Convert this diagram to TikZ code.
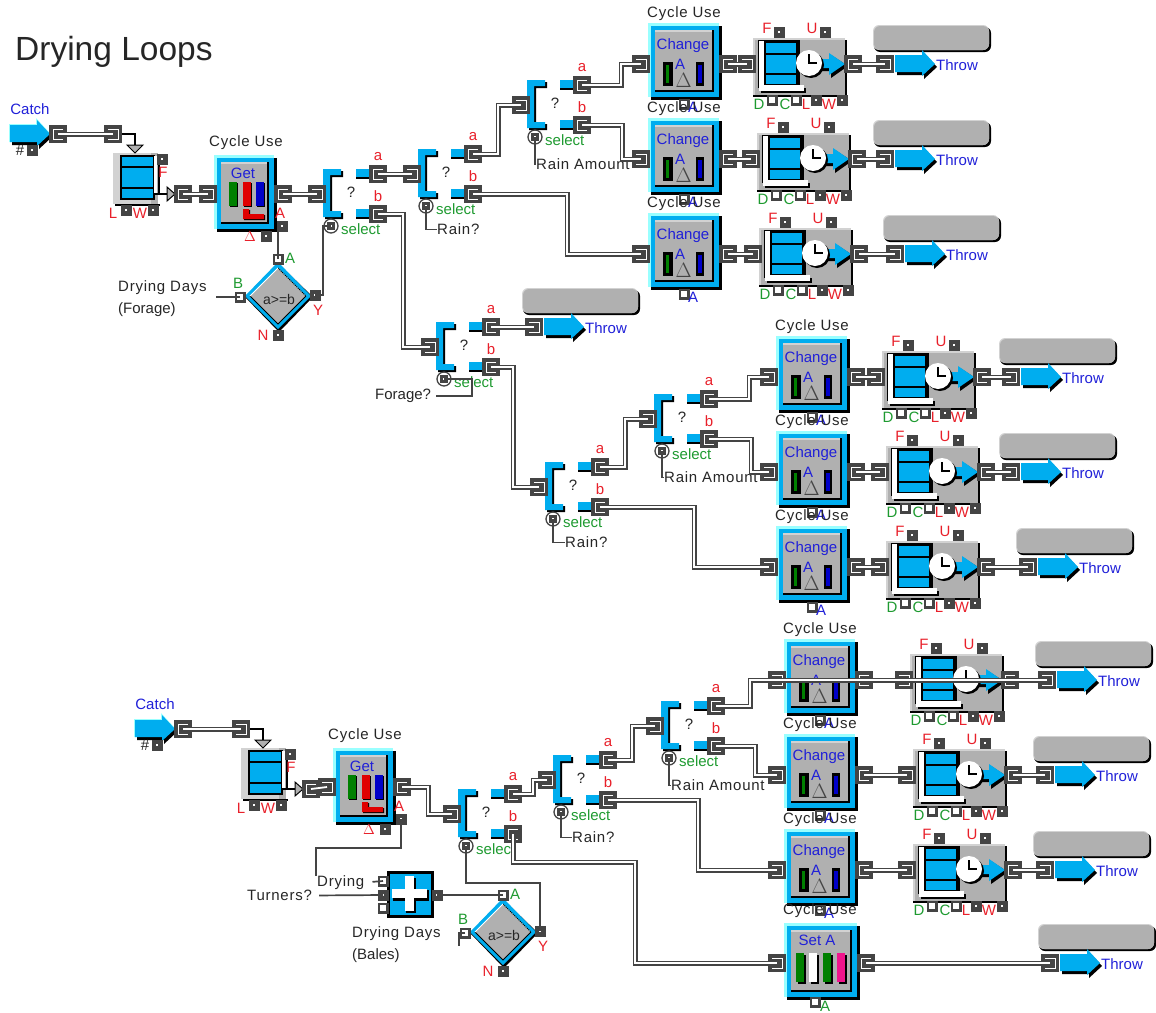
\documentclass[tikz,border=0pt]{standalone}
\usepackage{fontspec}
\setmainfont{Liberation Sans}
\newfontfamily\widefont[LetterSpace=5]{Liberation Sans}
\definecolor{portgray}{HTML}{444444}
\definecolor{blockgray}{HTML}{B0B0B0}
\definecolor{edgegray}{HTML}{D2D2D2}
\definecolor{tank}{HTML}{00ADEF}
\definecolor{icecyan}{HTML}{99FFFF}
\definecolor{lblred}{HTML}{E8202A}
\definecolor{lblgreen}{HTML}{1E9A30}
\definecolor{lblblue}{HTML}{2020D8}
\definecolor{bargreen}{HTML}{008000}
\definecolor{barred}{HTML}{E00000}
\definecolor{barblue}{HTML}{0000C8}
\definecolor{barpink}{HTML}{F0148C}

\begin{document}
\begin{tikzpicture}[x=1pt,y=-1pt,
  txt/.style={inner sep=0pt, font=\fontsize{15}{17}\selectfont, text=black!85},
  widetxt/.style={txt, yshift=-1.5pt, font=\fontsize{15}{17}\selectfont\widefont},
  redtxt/.style={txt, text=lblred},
  greentxt/.style={txt, text=lblgreen},
  bluetxt/.style={txt, text=lblblue},
  port/.style={fill=portgray, inner sep=0pt, minimum size=11pt, node contents={\color{white}\rule{2.4pt}{2.4pt}}},
  openport/.style={draw=portgray, fill=white, line width=2.5pt, inner sep=0pt, minimum size=8.5pt, node contents={}},
  wportin/.style={fill=portgray, inner sep=0pt, minimum size=18pt, node contents={},
    path picture={\draw[white,line width=.7pt] (path picture bounding box.center) +(-5,-5) -- +(5,-5) -- +(5,5) -- +(-5,5);}},
  wportout/.style={fill=portgray, inner sep=0pt, minimum size=18pt, node contents={},
    path picture={\draw[white,line width=.7pt] (path picture bounding box.center) +(5,-5) -- +(-5,-5) -- +(-5,5) -- +(5,5);}},
  wire/.style={draw=portgray, line width=1.6pt, double=white, double distance=1.8pt},
  sigwire/.style={draw=portgray, line width=1.7pt},
  thinarrow/.style={draw=black, line width=1.6pt},
  pics/blkframe/.style={code={
    \fill[black] (3,3) rectangle (#1,77);
    \fill[icecyan] (0,0) rectangle (#1-3,74);
    \fill[tank] (3,3) rectangle (#1-3,74);
    \fill[black] (7,7) rectangle (#1-8,69);
    \fill[blockgray] (7,7) rectangle (#1-10,67);
    \fill[edgegray] (7,7) rectangle (#1-10,9);
  }},
  bluearrow/.pic={
    \fill[black] (2,-6) -- (29,-6) -- (29,-11) -- (42,3) -- (29,15) -- (29,11) -- (2,11) -- cycle;
    \fill[tank] (0,-9) -- (27,-9) -- (27,-14) -- (40,0) -- (27,12) -- (27,8) -- (0,8) -- cycle;
  },
  catchblk/.pic={
    \fill[icecyan] (-1,-10) -- (26,-10) -- (26,-16) -- (40,-1) -- (26,8) -- (-1,8) -- cycle;
    \pic at (0,0) {bluearrow};
    \node[bluetxt] (-name) at (20,-25) {Catch};
    \node[txt] (-hash) at (10,16) {\#};
    \node (-port) at (22,16) [port];
    \node (-out) at (48,0) [wportout];
  },
  stockblk/.pic={
    \fill[edgegray] (0,0) rectangle (45,51);
    \fill[blockgray] (38,0) rectangle (45,51);
    \fill[black] (7,2) rectangle (42,47);
    \fill[white] (41,3) rectangle (44,40);
    \fill[tank] (9,4) rectangle (40,45);
    \fill[black] (9,13) rectangle (40,15);
    \fill[black] (9,34) rectangle (40,36);
    \fill[black] (45,3) rectangle (47,40);
    \fill[black] (2,51) rectangle (47,53);
    \draw[thinarrow] (0,-19) -| (22,-8);
    \draw[black, line width=1pt, fill=blockgray] (14,-8) -- (30,-8) -- (22,0) -- cycle;
    \draw[thinarrow] (40,41) -- (54,41);
    \draw[black, line width=1pt, fill=blockgray] (54,34) -- (62,41) -- (54,48) -- cycle;
    \node (-in) at (0,-19) [wportin];
    \node (-out) at (70,41) [wportout];
    \node (-F) at (49,6) [port];
    \node (-L) at (13,57) [port];
    \node (-W) at (40,57) [port];
    \node[redtxt] (-lF) at (50,19) {F};
    \node[redtxt] (-lL) at (0,60) {L};
    \node[redtxt] (-lW) at (27,60) {W};
  },
  getblk/.pic={
    \pic at (0,0) {blkframe=63};
    \node[widetxt] (-title) at (32,-14) {Cycle Use};
    \node[bluetxt] (-name) at (29,18) {Get};
    \fill[black] (16,28) rectangle (24,52);
    \fill[bargreen] (15,27) rectangle (23,51);
    \fill[black] (30,28) rectangle (38,52);
    \fill[barred] (29,27) rectangle (37,51);
    \fill[black] (43,28) rectangle (51,52);
    \fill[barblue] (42,27) rectangle (50,51);
    \fill[black] (30,55) -- (36,55) -- (36,60) -- (51,60) -- (51,65) -- (30,65) -- cycle;
    \fill[barred] (29,54) -- (35,54) -- (35,59) -- (50,59) -- (50,64) -- (29,64) -- cycle;
    \node (-in) at (-6,39) [wportin];
    \node (-out) at (69,39) [wportout];
    \node (-A) at (68,71) [port];
    \node (-D) at (52,81) [port];
    \node[redtxt] (-lA) at (66,58) {A};
    \node[redtxt] (-lD) at (36,82) {$\Delta$};
  },
  changeblk/.pic={
    \pic at (0,0) {blkframe=74};
    \node[widetxt] (-title) at (36,-11) {Cycle Use};
    \node[bluetxt] (-name) at (35,23) {Change};
    \node[bluetxt] (-lab) at (32,41) {A};
    \fill[black] (15,39) rectangle (25,63);
    \fill[bargreen] (18,42) rectangle (21,60);
    \fill[black] (48,39) rectangle (56,63);
    \fill[barblue] (50,42) rectangle (54,60);
    \node[txt, font=\fontsize{20}{22}\selectfont, text=portgray] (-delta) at (35.5,57) {$\Delta$};
    \node (-in) at (-7,41) [wportin];
    \node (-out) at (80,41) [wportout];
    \node (-A) at (36,81) [openport];
    \node[bluetxt] (-lA) at (45,84) {A};
  },
  setblk/.pic={
    \pic at (0,0) {blkframe=76};
    \node[widetxt] (-title) at (36,-14) {Cycle Use};
    \node[bluetxt] (-name) at (33,17) {Set A};
    \foreach \bx/\bc in {12/bargreen,25/white,39/bargreen,53/barpink} {
      \fill[black] (\bx+2,32) rectangle (\bx+10,61);
      \fill[\bc] (\bx,30) rectangle (\bx+8,59);
    }
    \node (-in) at (-7,40) [wportin];
    \node (-out) at (82,40) [wportout];
    \node (-A) at (31,79) [openport];
    \node[greentxt] (-lA) at (41,83) {A};
  },
  clockblk/.pic={
    \fill[edgegray] (0,0) rectangle (92,57);
    \fill[blockgray] (2,2) rectangle (92,57);
    \fill[black] (92,2) rectangle (94,59);
    \fill[black] (0,57) rectangle (94,59);
    \fill[black] (5,2) rectangle (47,50);
    \fill[black] (8,50) rectangle (53,55);
    \fill[white] (6,3) rectangle (11,52);
    \fill[white] (6,47) rectangle (51,53);
    \fill[tank] (13,5) rectangle (43,46);
    \fill[black] (13,15) rectangle (43,17);
    \fill[black] (13,35) rectangle (43,37);
    \fill[black] (69,24) -- (78,24) -- (78,17) -- (95,28) -- (78,40) -- (78,33) -- (69,33) -- cycle;
    \fill[tank] (67,21) -- (76,21) -- (76,15) -- (92,26) -- (76,37) -- (76,30) -- (67,30) -- cycle;
    \fill[black] (58,27) circle (13);
    \fill[white] (56,25) circle (13);
    \draw[black, line width=1.6pt] (56,16) -- (56,25) -- (64,25);
    \node (-in) at (-6,26) [wportin];
    \node (-out) at (100,26) [wportout];
    \node (-F) at (26,-6) [port];
    \node (-U) at (72,-6) [port];
    \node (-D) at (19,62) [openport];
    \node (-C) at (43,62) [openport];
    \node (-L) at (63,62) [port];
    \node (-W) at (89,62) [port];
    \node[redtxt] (-lF) at (14,-10) {F};
    \node[redtxt] (-lU) at (59,-10) {U};
    \node[greentxt] (-lD) at (6,66) {D};
    \node[greentxt] (-lC) at (32,66) {C};
    \node[redtxt] (-lL) at (53,66) {L};
    \node[redtxt] (-lW) at (76,66) {W};
  },
  throwblk/.pic={
    \fill[black, rounded corners=6pt] (-11,-37) rectangle (106,-12);
    \fill[edgegray, rounded corners=6pt] (-12,-39) rectangle (104,-14);
    \fill[blockgray, rounded corners=6pt] (-11,-38) rectangle (104,-14);
    \pic at (10,0) {bluearrow};
    \node (-in) at (0,0) [wportin];
    \node[bluetxt, anchor=west] (-name) at (51,1) {Throw};
  },
  selectblk/.pic={
    \fill[black] (2,2) -- (20,2) -- (20,8) -- (9,8) -- (9,44) -- (20,44) -- (20,50) -- (2,50) -- cycle;
    \fill[tank] (0,0) -- (18,0) -- (18,6) -- (7,6) -- (7,42) -- (18,42) -- (18,48) -- (0,48) -- cycle;
    \fill[black] (33,2) rectangle (46,10);
    \fill[tank] (33,0) rectangle (46,8);
    \fill[black] (33,42) rectangle (46,50);
    \fill[tank] (33,40) rectangle (46,48);
    \node[txt] (-q) at (28,23) {?};
    \node (-in) at (-6,25) [wportin];
    \node (-a) at (55,5) [wportout];
    \node (-b) at (55,45) [wportout];
    \draw[portgray, line width=1.3pt] (8,57) circle (7);
    \node (-sel) at (8,57) [port, minimum size=8pt];
    \node[redtxt] (-la) at (55,-12) {a};
    \node[redtxt] (-lb) at (55,27) {b};
    \node[greentxt, anchor=west] (-lsel) at (18,60) {select};
  },
  decideblk/.pic={
    \fill[black] (0,-33) -- (35,1) -- (1,36) -- (-33,1) -- cycle;
    \fill[tank] (0,-34) -- (33,0) -- (0,33) -- (-33,0) -- cycle;
    \fill[blockgray] (0,-28) -- (28,0) -- (0,28) -- (-28,0) -- cycle;
    \draw[black, line width=1pt] (28,0) -- (0,28) -- (-28,0);
    \draw[black, line width=1pt, densely dotted] (0,-28) -- (28,0);
    \draw[white, line width=1pt] (0,-28) -- (-28,0);
    \node[txt, font=\fontsize{14}{16}\selectfont] (-test) at (1,3) {a>=b};
    \node (-A) at (0,-37) [openport];
    \node (-B) at (-38,1) [openport];
    \node (-Y) at (37,-1) [port];
    \node (-N) at (0,39) [port];
    \node[greentxt] (-lA) at (12,-38) {A};
    \node[greentxt] (-lB) at (-40,-13) {B};
    \node[redtxt] (-lY) at (40,14) {Y};
    \node[redtxt] (-lN) at (-15,39) {N};
  },
  sumblk/.pic={
    \fill[black] (0,0) rectangle (47,47);
    \fill[tank] (3,3) rectangle (44,44);
    \fill[black] (19,7) rectangle (29,42);
    \fill[black] (6,19) rectangle (42,30);
    \fill[white] (18,5) rectangle (27,40);
    \fill[white] (5,18) rectangle (40,27);
    \node (-d) at (-4,10) [openport];
    \node (-t) at (-4,24) [port];
    \node (-x) at (-4,37) [openport];
    \node (-out) at (50,24) [port];
  }
]
  \useasboundingbox (0,0) rectangle (1156,1012);
  \node[txt, anchor=west, font=\fontsize{33.5}{38}\selectfont] (title) at (15,52) {Drying Loops};

  % --- catch, stock, get ---
  \pic (ca) at (10,134) {catchblk};
  \pic (sa) at (113,153) {stockblk};
  \pic (ga) at (214,155) {getblk};
  \pic (cb) at (135,729) {catchblk};
  \pic (sb) at (241,748) {stockblk};
  \pic (gb) at (333,748) {getblk};

  % --- selects ---
  \foreach \nm/\sx/\sy in {s1/323/169,s2/418/149,s3/527/80,s4/436/322,s5/545/462,s6/654/394,s7/458/789,s8/553/755,s9/661/701}
    {\pic (\nm) at (\sx,\sy) {selectblk};}

  % --- change, clock, throw rows ---
  \foreach \nm/\cx/\cy/\kx/\ky/\tx/\ty in {1/648/23/753/38/885/64,2/648/118/757/133/885/159,3/648/213/759/228/895/254,
      4/776/336/882/351/1011/377,5/776/431/886/446/1011/472,6/776/526/886/541/1028/567,
      7/784/639/910/654/1047/680,8/784/734/913/749/1045/775,9/784/829/913/844/1045/870} {
    \pic (c\nm) at (\cx,\cy) {changeblk};
    \pic (k\nm) at (\kx,\ky) {clockblk};
    \pic (t\nm) at (\tx,\ty) {throwblk};
    \draw[wire] (c\nm-out.center) -- (k\nm-in.center);
    \draw[wire] (k\nm-out.center) -- (t\nm-in.center);
  }
  \pic (seta) at (784,923) {setblk};
  \pic (t10) at (1050,963) {throwblk};
  \pic (t11) at (534,327) {throwblk};

  % --- decisions and sum ---
  \pic (da) at (278,296) {decideblk};
  \pic (db) at (503,932) {decideblk};
  \pic (sum) at (387,871) {sumblk};
  \coordinate (dayin) at (216,297);

  % --- labels ---
  \node[widetxt, anchor=west] (lforage) at (118,286) {Drying Days};
  \node[txt, anchor=west] (lforage2) at (118,310) {(Forage)};
  \node[widetxt, anchor=west] (lbales) at (352,932) {Drying Days};
  \node[txt, anchor=west] (lbales2) at (352,956) {(Bales)};
  \node[widetxt, anchor=west] (ldry) at (317,881) {Drying};
  \node[widetxt, anchor=west] (lturn) at (247,894) {Turners?};
  \node[txt, anchor=west] (lfor) at (375,396) {Forage?};
  \foreach \nm/\lt/\lx/\ly in {s2/Rain?/437/228,s3/Rain Amount/536/163,s5/Rain?/565/541,s6/Rain Amount/664/476,s8/Rain?/572/836,s9/Rain Amount/671/784} {
    \node[widetxt, anchor=west] (l\nm) at (\lx,\ly) {\lt};
    \draw[sigwire] (\nm-sel.center) |- (l\nm.west);
  }

  % --- wires upper ---
  \draw[wire] (ca-out.center) -- (sa-in.center);
  \draw[wire] (sa-out.center) -- (ga-in.center);
  \draw[wire] (ga-out.center) -- (s1-in.center);
  \draw[wire] (s1-a.center) -- (s2-in.center);
  \draw[wire] (s1-b.center) -- ++(25,0) |- (s4-in.center);
  \draw[wire] (s2-a.center) -- ++(25,0) |- (s3-in.center);
  \draw[wire] (s2-b.center) -- ++(94,0) |- (c3-in.center);
  \draw[wire] (s3-a.center) -- ++(39,0) |- (c1-in.center);
  \draw[wire] (s3-b.center) -- ++(40,0) |- (c2-in.center);
  \draw[wire] (s4-a.center) -- (t11-in.center);
  \draw[wire] (s4-b.center) -- ++(22,0) |- (s5-in.center);
  \draw[wire] (s5-a.center) -- ++(25,0) |- (s6-in.center);
  \draw[wire] (s5-b.center) -- ++(94,0) |- (c6-in.center);
  \draw[wire] (s6-a.center) -- ++(40,0) |- (c4-in.center);
  \draw[wire] (s6-b.center) -- ++(42,0) |- (c5-in.center);
  \draw[sigwire] (da-A.center) -- (da-A |- ga-A);
  \draw[sigwire] (da-Y.center) -- ++(8,0) |- (s1-sel.center);
  \draw[sigwire] (dayin) -- (da-B.center);
  \draw[sigwire, shorten <=5pt] (lfor.east) -- ++(41,0) |- (s4-sel.center);

  % --- wires lower ---
  \draw[wire] (cb-out.center) -- (sb-in.center);
  \draw[wire] (sb-out.center) -- (gb-in.center);
  \draw[wire] (gb-out.center) -- ++(26,0) |- (s7-in.center);
  \draw[wire] (s7-a.center) -- ++(20,0) |- (s8-in.center);
  \draw[wire] (s7-b.center) -- ++(0,28) -- ++(122,0) |- (seta-in.center);
  \draw[wire] (s8-a.center) -- ++(24,0) |- (s9-in.center);
  \draw[wire] (s8-b.center) -- ++(90,0) |- (c9-in.center);
  \draw[wire] (s9-a.center) -- ++(34,0) |- (c7-in.center);
  \draw[wire] (s9-b.center) -- ++(39,0) |- (c8-in.center);
  \draw[wire] (seta-out.center) -- (t10-in.center);
  \draw[wire] (c7-in.center) -- (c7-out.center);
  \draw[wire] (k7-in.center) -- (k7-out.center);
  \draw[sigwire] (gb-A.center) -- ++(0,29) -- ++(-85,0) |- (ldry.north west);
  \draw[sigwire, shorten <=8pt] (ldry.east) -- (sum-d.center);
  \draw[sigwire, shorten <=7pt] (lturn.east) -- (sum-t.center);
  \draw[sigwire] (sum-out.center) -- (db-A.center);
  \draw[sigwire] (s7-sel.center) -- ++(0,37) -| (db-Y.center);
  \draw[sigwire] (db-B.center) -- ++(-6,0) -- ++(0,13);
\end{tikzpicture}
\end{document}
